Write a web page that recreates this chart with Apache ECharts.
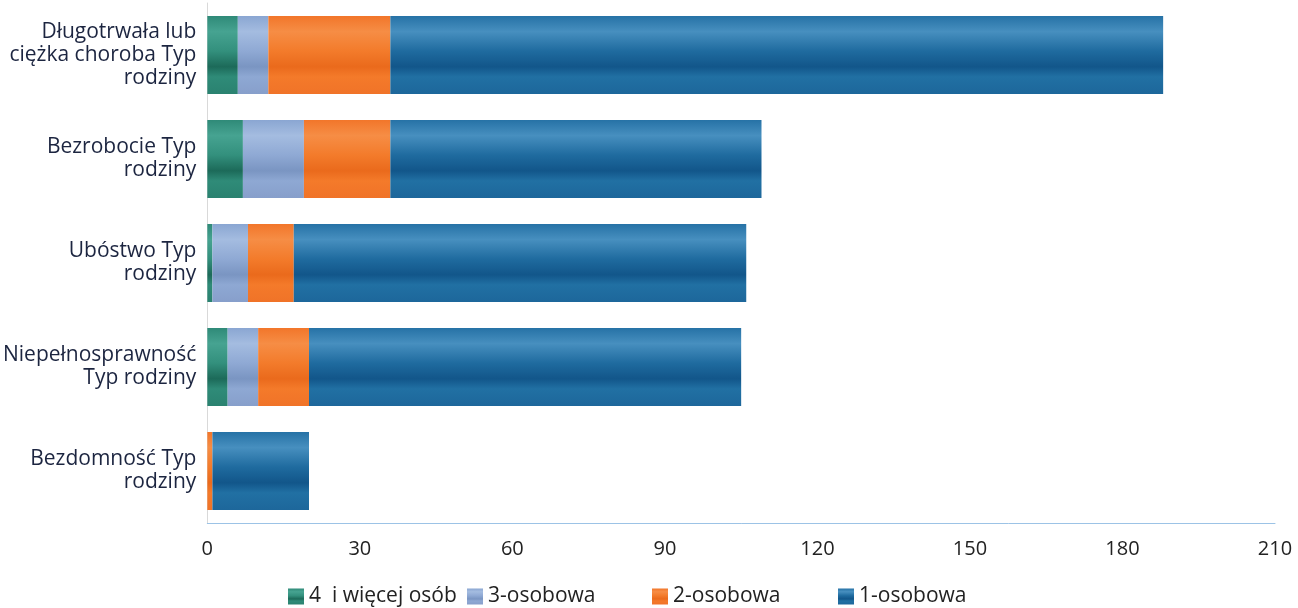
<!DOCTYPE html>
<html>
<head>
<meta charset="utf-8">
<script src="https://cdn.jsdelivr.net/npm/echarts@6/dist/echarts.min.js"></script>
<style>
html,body{margin:0;padding:0;background:#fff;}
#c{width:1298px;height:608px;}
</style>
</head>
<body>
<div id="c"></div>
<script>
var categories = ['Długotrwała lub\nciężka choroba Typ\nrodziny', 'Bezrobocie Typ\nrodziny', 'Ubóstwo Typ\nrodziny', 'Niepełnosprawność\nTyp rodziny', 'Bezdomność Typ\nrodziny'];
var seriesNames = ['4  i więcej osób', '3-osobowa', '2-osobowa', '1-osobowa'];
var s4plus = [6, 7, 1, 4, 0];
var s3 = [6, 12, 7, 6, 0];
var s2 = [24, 17, 9, 10, 1];
var s1 = [152, 73, 89, 85, 19];
var xTicks = [0, 30, 60, 90, 120, 150, 180, 210];

function grad(stops) {
  return new echarts.graphic.LinearGradient(0, 0, 0, 1, stops.map(function (s) { return { offset: s[0], color: s[1] }; }));
}
var colors = [
  grad([[0, '#2f8a78'], [0.2, '#46a391'], [0.45, '#33907d'], [0.65, '#1c6a59'], [0.78, '#2f8b78'], [1, '#2a8270']]),
  grad([[0, '#8aa6d2'], [0.2, '#a4bce0'], [0.45, '#8fa9d4'], [0.65, '#7a95c2'], [0.78, '#8ea8d3'], [1, '#879fcb']]),
  grad([[0, '#f2762a'], [0.2, '#f68d45'], [0.45, '#f37b2b'], [0.65, '#ea6a1c'], [0.78, '#f47a2a'], [1, '#f07328']]),
  grad([[0, '#2672a6'], [0.2, '#478fbf'], [0.45, '#1f6b9f'], [0.65, '#12568a'], [0.78, '#2170a3'], [1, '#1d679b']])
];
var dataSets = [s4plus, s3, s2, s1];

var series = seriesNames.map(function (n, i) {
  return {
    name: n,
    type: 'bar',
    stack: 'total',
    barCategoryGap: '25%',
    data: dataSets[i],
    itemStyle: { color: colors[i] },
    emphasis: { disabled: true }
  };
});

var legendLeft = [283, 462, 647, 833];
var legends = seriesNames.map(function (n, i) {
  return {
    data: [n],
    left: legendLeft[i],
    top: 581,
    icon: 'rect',
    itemWidth: 16,
    itemHeight: 16,
    itemGap: 8,
    textStyle: { fontFamily: 'Open Sans', fontSize: 21, color: '#222' }
  };
});

var chart = echarts.init(document.getElementById('c'), null, { renderer: 'canvas' });
chart.setOption({
  animation: false,
  backgroundColor: '#fff',
  grid: { left: 207, right: 23, top: 3, bottom: 85, containLabel: false },
  legend: legends,
  xAxis: {
    type: 'value',
    min: 0,
    max: 210,
    interval: 30,
    axisLine: { show: true, lineStyle: { color: '#9cc3e6', width: 1 } },
    axisTick: { show: false },
    splitLine: { show: false },
    axisLabel: {
      margin: 16,
      fontFamily: 'Open Sans',
      fontSize: 20,
      color: '#222',
      formatter: function (v) { return xTicks.indexOf(v) >= 0 ? String(v) : ''; }
    }
  },
  yAxis: {
    type: 'category',
    inverse: true,
    data: categories,
    axisLine: { show: true, lineStyle: { color: '#d9d9d9', width: 1 } },
    axisTick: { show: false },
    splitLine: { show: false },
    axisLabel: {
      margin: 11,
      fontFamily: 'Open Sans',
      fontSize: 21,
      lineHeight: 23,
      color: '#1c2540',
      align: 'right'
    }
  },
  series: series
});
</script>
</body>
</html>
